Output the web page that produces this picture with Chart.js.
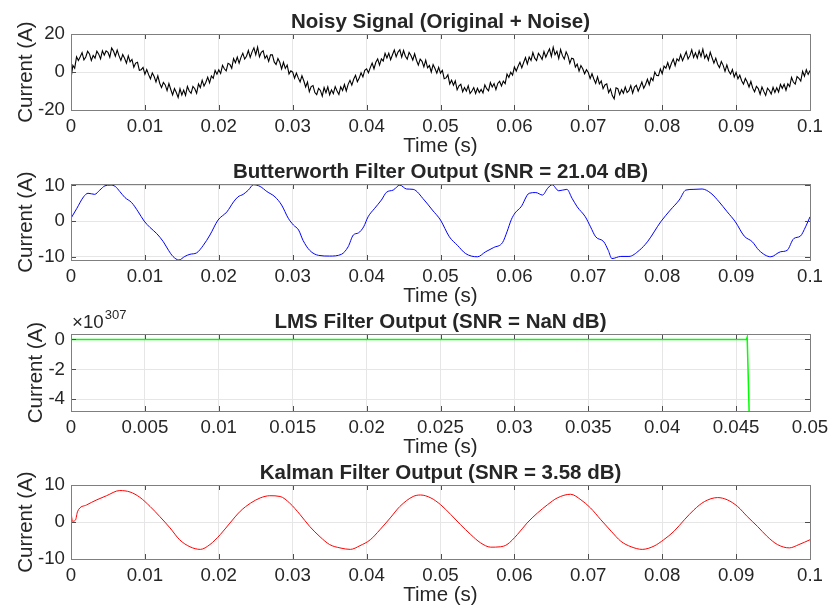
<!DOCTYPE html>
<html>
<head>
<meta charset="utf-8">
<title>Filter comparison</title>
<script src="https://cdn.jsdelivr.net/npm/chart.js@4.4.1/dist/chart.umd.min.js"></script>
<style>
  html, body { margin: 0; padding: 0; background: #fff; }
  #wrap { position: relative; width: 828px; height: 611px; overflow: hidden; }
  #wrap canvas { position: absolute; left: 0; top: 0; }
</style>
</head>
<body>
<div id="wrap">
  <canvas id="noisyChart" width="828" height="611"></canvas>
  <canvas id="butterChart" width="828" height="611"></canvas>
  <canvas id="lmsChart" width="828" height="611"></canvas>
  <canvas id="kalmanChart" width="828" height="611"></canvas>
</div>
<script>
// ---- data ----

// noisy signal, sampled every 0.25 ms from 0 to 0.1 s
const NOISY_DT = 0.00025;
const noisyCurrent = [
  -3.5, 3.5, 2.0, 8.0, 6.0, 8.0, 10.2, 6.4, 7.9, 10.9, 9.5, 6.1, 8.7, 7.3, 11.0, 9.4, 6.9, 11.2, 8.9, 11.1,
  10.4, 7.8, 12.6, 11.0, 8.3, 11.5, 8.5, 6.1, 9.2, 7.2, 4.6, 8.5, 5.4, 6.6, 2.5, 4.7, 5.1, 0.9, 1.2, 2.4,
  -1.2, 1.3, -1.4, -3.6, -0.5, -2.4, -5.2, -2.0, -5.9, -8.2, -5.5, -6.8, -9.8, -6.1, -9.2, -12.1, -8.7, -10.8, -13.4, -8.8,
  -12.1, -9.5, -12.3, -7.6, -10.0, -11.2, -7.6, -8.8, -11.2, -6.3, -8.2, -4.3, -7.4, -5.4, -2.7, -5.7, -2.1, -3.3, 0.8, -1.2,
  1.1, -0.8, 3.5, 1.7, 0.6, 4.6, 4.0, 2.0, 7.1, 4.9, 7.8, 4.6, 7.7, 9.9, 6.8, 8.3, 11.3, 7.7, 10.6, 12.7,
  9.1, 13.1, 8.0, 10.4, 11.2, 7.2, 8.7, 5.6, 9.0, 9.0, 5.3, 3.9, 7.1, 5.1, 1.6, 5.1, 1.9, 3.7, -1.0, 0.6,
  -0.1, -3.3, -0.6, -3.1, -5.2, -2.0, -4.6, -7.9, -5.3, -10.4, -7.7, -7.1, -10.8, -11.9, -8.6, -9.7, -12.7, -8.2, -10.9, -7.8,
  -12.0, -9.4, -11.4, -7.7, -10.0, -11.8, -7.8, -9.7, -6.6, -10.0, -6.5, -4.4, -6.9, -3.8, -1.7, -5.1, -3.2, -0.4, -2.6, 0.9,
  1.7, -0.4, 2.3, 4.7, 1.7, 5.1, 6.9, 3.6, 6.9, 5.8, 9.8, 7.4, 9.9, 6.5, 9.1, 11.6, 8.0, 10.5, 11.7, 7.8,
  11.3, 8.3, 6.8, 10.3, 8.7, 6.3, 9.6, 6.2, 3.6, 6.8, 5.6, 2.7, 6.2, 2.2, 3.4, 0.0, 3.9, 1.8, -0.6, 2.5,
  -0.6, 0.9, -3.5, -3.1, -1.5, -6.3, -4.3, -7.0, -4.7, -9.4, -7.3, -6.5, -10.4, -8.2, -10.1, -7.2, -11.3, -10.0, -8.2, -11.3,
  -8.6, -10.8, -9.2, -11.0, -6.8, -8.8, -9.9, -5.6, -7.9, -6.1, -9.3, -6.0, -4.9, -7.4, -4.8, -6.1, -1.1, -2.8, -0.1, -1.6,
  2.6, 0.5, 3.0, 5.1, 2.2, 5.0, 7.6, 4.2, 7.9, 6.1, 10.2, 7.3, 6.0, 9.8, 8.4, 6.6, 10.8, 7.8, 10.1, 12.2,
  8.2, 13.0, 9.1, 10.9, 7.1, 11.8, 8.6, 6.8, 10.6, 8.5, 4.6, 7.3, 6.9, 2.6, 4.2, 0.5, 3.4, 1.7, -0.9, 1.2,
  -0.3, -3.5, -0.9, -3.7, -6.0, -2.6, -6.3, -4.7, -8.8, -6.8, -6.2, -10.8, -8.9, -12.4, -14.1, -8.3, -8.8, -11.9, -9.3, -11.2,
  -7.9, -10.8, -9.8, -7.2, -11.1, -7.9, -7.0, -10.1, -7.8, -5.3, -8.6, -6.6, -3.8, -6.7, -3.1, -4.5, 0.0, -1.8, -1.9, 1.6,
  -0.9, 3.1, 2.0, 5.0, 1.7, 4.6, 6.8, 3.3, 6.9, 5.8, 9.1, 6.0, 8.3, 10.7, 6.8, 8.6, 11.7, 7.7, 10.1, 7.3,
  11.2, 8.2, 12.0, 7.3, 9.1, 6.2, 10.4, 7.5, 4.7, 7.3, 4.1, 2.3, 5.5, 3.5, 0.3, 3.7, 0.5, -1.1, 1.3, -2.6,
  -0.2, -3.6, -1.7, -4.6, -6.4, -3.4, -5.3, -7.9, -5.0, -8.5, -10.4, -7.5, -8.7, -11.7, -7.9, -10.2, -12.3, -8.5, -9.7, -11.6,
  -8.1, -10.8, -8.3, -10.5, -6.5, -8.6, -6.5, -9.6, -6.2, -7.7, -2.9, -5.3, -6.4, -2.4, -3.3, -4.8, 0.4, -2.2, 1.2, -1.3,
  0.8
];

// Butterworth output
const bwTime = [
  0, 0.0008, 0.0017, 0.0023, 0.0032, 0.0039, 0.0046, 0.0053, 0.006, 0.0066, 0.0073, 0.0082, 0.0091, 0.0099,
  0.0107, 0.0116, 0.0125, 0.0132, 0.0138, 0.0146, 0.0154, 0.0161, 0.017, 0.0179, 0.0188, 0.0199,
  0.0211, 0.022, 0.0226, 0.0233, 0.024, 0.0247, 0.0256, 0.0265, 0.0276, 0.0285, 0.0294,
  0.0301, 0.0308, 0.0314, 0.0323, 0.0335, 0.035, 0.0366, 0.0375, 0.0382, 0.0389, 0.0396,
  0.0402, 0.0411, 0.042, 0.0427, 0.0436, 0.0445, 0.0454, 0.0463, 0.0478, 0.0489, 0.05,
  0.0512, 0.0523, 0.0534, 0.055, 0.0561, 0.0572, 0.0584, 0.059, 0.0596, 0.0601, 0.0609,
  0.062, 0.0629, 0.0638, 0.0645, 0.0651, 0.066, 0.0671, 0.0678, 0.0685, 0.0696,
  0.0703, 0.071, 0.0721, 0.0727, 0.0732, 0.0744, 0.0755, 0.0769, 0.078, 0.0798,
  0.0811, 0.0823, 0.0832, 0.0843, 0.0854, 0.0866, 0.0877, 0.0888, 0.0899,
  0.0911, 0.0922, 0.0931, 0.0947, 0.096, 0.0969, 0.0978, 0.0987, 0.0994, 0.1
];
const bwCurrent = [
  0.8, 3.6, 6.8, 7.8, 7.5, 8.7, 9.9, 10.1, 9.7, 8.3, 6.6, 5.2, 2.6, 0,
  -1.8, -3.5, -5.8, -8.2, -9.9, -10.9, -9.9, -9.3, -8.9, -6.8, -3.9, 0.3,
  2.6, 5.4, 6.8, 7.5, 8.7, 10.2, 9.7, 8.3, 6.8, 4.5, 0.8,
  -1.1, -2.5, -5.4, -8.2, -9.6, -9.8, -9.3, -7.2, -3.9, -3.3, -1.6,
  1.2, 3.6, 5.9, 8.1, 8.7, 10.1, 9.0, 8.9, 5.9, 3.1, 0.3,
  -4.4, -6.8, -9.1, -10.0, -8.6, -7.4, -6.0, -3.0, 0.5, 2.3, 4.0,
  7.8, 8.0, 7.3, 9.2, 10.2, 8.5, 8.9, 6.4, 4.0, 1.2,
  -1.6, -4.4, -5.8, -8.2, -10.5, -9.9, -9.9, -8.2, -5.8, -0.2,
  3.1, 5.9, 8.7, 8.9, 9.0, 7.8, 5.4, 2.6, -0.2,
  -4.2, -5.8, -8.2, -10.0, -8.6, -8.2, -4.9, -4.2, -1.6, 1.2
];

// LMS output, in units of 1e307 (diverges just after 0.0457 s)
const lmsTime = [0, 0.0457, 0.04575, 0.0459];
const lmsCurrent = [0, 0, 0.15, -5.5];

// Kalman output
const kalmanTime = [
  0, 0.0002, 0.0006, 0.0009, 0.0021, 0.0035, 0.0048, 0.0066, 0.008, 0.0093,
  0.0107, 0.012, 0.0134, 0.0147, 0.0161, 0.0175, 0.0188, 0.0202, 0.0215, 0.0229,
  0.0243, 0.0256, 0.0269, 0.0283, 0.0296, 0.031, 0.0323, 0.0337, 0.035, 0.0364,
  0.0378, 0.0391, 0.0405, 0.0418, 0.0432, 0.0445, 0.0463, 0.0473, 0.0487, 0.05,
  0.0514, 0.0527, 0.0541, 0.0554, 0.0568, 0.0581, 0.059, 0.0604, 0.0617, 0.0631,
  0.0645, 0.0658, 0.0676, 0.069, 0.0703, 0.0717, 0.0731, 0.0744, 0.0758, 0.0773,
  0.0789, 0.0802, 0.0816, 0.083, 0.0843, 0.0857, 0.0875, 0.0888, 0.0902, 0.0915,
  0.0929, 0.0942, 0.0956, 0.0972, 0.0985, 0.1
];
const kalmanCurrent = [
  2.8, 0.2, 0.5, 2.9, 4.6, 6.0, 7.1, 8.5, 8.1, 6.7,
  4.2, 1.5, -1.6, -4.8, -6.7, -7.4, -6.1, -3.4, -0.3, 2.9,
  5.1, 6.5, 7.1, 6.9, 5.1, 2.0, -1.2, -4.0, -6.1, -7.0,
  -7.4, -6.4, -4.8, -2.1, 1.1, 4.2, 6.9, 7.3, 6.5, 4.7,
  2.0, -0.7, -3.4, -5.6, -6.8, -6.7, -6.1, -3.4, -0.3, 2.4,
  4.7, 6.5, 7.5, 6.0, 3.8, 0.6, -2.5, -5.2, -6.7, -7.4,
  -6.5, -4.8, -2.5, 0.6, 3.3, 5.5, 6.6, 6.0, 4.2, 1.5,
  -1.2, -3.9, -6.1, -7.0, -6.1, -4.8
];

// tick values and labels
const xTicksLong = [0, 0.01, 0.02, 0.03, 0.04, 0.05, 0.06, 0.07, 0.08, 0.09, 0.1];
const xLabelsLong = ["0", "0.01", "0.02", "0.03", "0.04", "0.05", "0.06", "0.07", "0.08", "0.09", "0.1"];
const xTicksShort = [0, 0.005, 0.01, 0.015, 0.02, 0.025, 0.03, 0.035, 0.04, 0.045, 0.05];
const xLabelsShort = ["0", "0.005", "0.01", "0.015", "0.02", "0.025", "0.03", "0.035", "0.04", "0.045", "0.05"];
const yTicksNoisy = [-20, 0, 20];
const yTicksTen = [-10, 0, 10];
const yTicksLms = [-4, -2, 0];

// ---- layout / style ----
const PAGE_W = 828;
const PAGE_H = 611;
const BOX_LEFT = 71;
const BOX_RIGHT = 810;
const X_AXIS_H = 49;
const TICK_LEN = 5;
const FONT = '"Liberation Sans", Arial, Helvetica, sans-serif';
const TEXT_COLOR = "#262626";

// MATLAB-like box: border all round, inward tick marks, bold title above
const matlabAxes = {
  id: "matlabAxes",
  afterDraw(chart, args, opts) {
    const { ctx, chartArea: a, scales } = chart;
    ctx.save();
    ctx.strokeStyle = "#4d4d4d";
    ctx.lineWidth = 1;
    ctx.beginPath();
    scales.x.ticks.forEach((t) => {
      const px = Math.round(scales.x.getPixelForValue(t.value)) + 0.5;
      ctx.moveTo(px, a.bottom);
      ctx.lineTo(px, a.bottom - TICK_LEN);
      ctx.moveTo(px, a.top);
      ctx.lineTo(px, a.top + TICK_LEN);
    });
    scales.y.ticks.forEach((t) => {
      const py = Math.round(scales.y.getPixelForValue(t.value)) + 0.5;
      ctx.moveTo(a.left, py);
      ctx.lineTo(a.left + TICK_LEN, py);
      ctx.moveTo(a.right, py);
      ctx.lineTo(a.right - TICK_LEN, py);
    });
    ctx.stroke();

    ctx.strokeStyle = "#7f7f7f";
    ctx.strokeRect(Math.round(a.left) + 0.5, Math.round(a.top) + 0.5,
      Math.round(a.right - a.left), Math.round(a.bottom - a.top));

    ctx.fillStyle = TEXT_COLOR;
    ctx.textBaseline = "alphabetic";
    ctx.textAlign = "center";
    ctx.font = "bold 20.5px " + FONT;
    ctx.fillText(opts.title, (a.left + a.right) / 2, a.top - 6);

    if (opts.exponent) {
      ctx.textAlign = "left";
      ctx.font = "18.7px " + FONT;
      const base = "\u00d710";
      ctx.fillText(base, a.left + 1, a.top - 6);
      const w = ctx.measureText(base).width;
      ctx.font = "13px " + FONT;
      ctx.fillText(opts.exponent, a.left + 2 + w, a.top - 15);
    }
    ctx.restore();
  },
};

function makeChart(id, cfg) {
  return new Chart(document.getElementById(id), {
    type: "line",
    data: {
      datasets: [
        {
          data: cfg.x.map((t, i) => ({ x: t, y: cfg.y[i] })),
          borderColor: cfg.color,
          borderWidth: cfg.lineWidth || 1,
          pointRadius: 0,
          fill: false,
          cubicInterpolationMode: cfg.smooth ? "monotone" : "default",
        },
      ],
    },
    plugins: [matlabAxes],
    options: {
      responsive: false,
      animation: false,
      events: [],
      layout: {
        padding: {
          left: 0,
          right: PAGE_W - BOX_RIGHT,
          top: cfg.top,
          bottom: PAGE_H - cfg.bottom - X_AXIS_H,
        },
      },
      plugins: {
        legend: { display: false },
        tooltip: { enabled: false },
        matlabAxes: { title: cfg.title, exponent: cfg.exponent },
      },
      scales: {
        x: {
          type: "linear",
          min: cfg.xTicks[0],
          max: cfg.xTicks[cfg.xTicks.length - 1],
          afterBuildTicks: (s) => { s.ticks = cfg.xTicks.map((v) => ({ value: v })); },
          afterFit: (s) => {
            s.height = X_AXIS_H;
            // let the end labels overhang the box like MATLAB does
            s.paddingLeft = 0;
            s.paddingRight = 0;
          },
          ticks: {
            autoSkip: false,
            maxRotation: 0,
            padding: 6,
            color: TEXT_COLOR,
            font: { family: FONT, size: 18.7, lineHeight: 1.2 },
            callback: (v, i) => cfg.xLabels[i],
          },
          grid: { color: "#e6e6e6", drawTicks: false },
          border: { display: false },
          title: {
            display: true,
            text: "Time (s)",
            color: TEXT_COLOR,
            padding: 0,
            font: { family: FONT, size: 20.5, lineHeight: 1.2 },
          },
        },
        y: {
          min: cfg.yMin,
          max: cfg.yMax,
          afterBuildTicks: (s) => { s.ticks = cfg.yTicks.map((v) => ({ value: v })); },
          afterFit: (s) => {
            s.width = BOX_LEFT;
            s.paddingTop = 0;
            s.paddingBottom = 0;
          },
          ticks: {
            padding: 6,
            color: TEXT_COLOR,
            font: { family: FONT, size: 18.7 },
            callback: (v) => String(v),
          },
          grid: { color: "#e6e6e6", drawTicks: false },
          border: { display: false },
          title: {
            display: true,
            text: "Current (A)",
            color: TEXT_COLOR,
            padding: { top: cfg.yTitlePad, bottom: 0 },
            font: { family: FONT, size: 20.5, lineHeight: 1.2 },
          },
        },
      },
    },
  });
}

makeChart("noisyChart", {
  title: "Noisy Signal (Original + Noise)",
  x: noisyCurrent.map((v, i) => i * NOISY_DT),
  y: noisyCurrent,
  color: "#000000",
  lineWidth: 1.1,
  top: 34, bottom: 110,
  yMin: -20, yMax: 20, yTicks: yTicksNoisy, yTitlePad: 14,
  xTicks: xTicksLong, xLabels: xLabelsLong,
});

makeChart("butterChart", {
  title: "Butterworth Filter Output (SNR = 21.04 dB)",
  x: bwTime,
  y: bwCurrent,
  color: "#0000ff",
  smooth: true,
  top: 184, bottom: 260,
  yMin: -10.9, yMax: 10.4, yTicks: yTicksTen, yTitlePad: 14,
  xTicks: xTicksLong, xLabels: xLabelsLong,
});

makeChart("lmsChart", {
  title: "LMS Filter Output (SNR = NaN dB)",
  exponent: "307",
  x: lmsTime,
  y: lmsCurrent,
  color: "#00ff00",
  lineWidth: 1.5,
  top: 334, bottom: 411,
  yMin: -4.78, yMax: 0.36, yTicks: yTicksLms, yTitlePad: 24,
  xTicks: xTicksShort, xLabels: xLabelsShort,
});

makeChart("kalmanChart", {
  title: "Kalman Filter Output (SNR = 3.58 dB)",
  x: kalmanTime,
  y: kalmanCurrent,
  color: "#ff0000",
  smooth: true,
  top: 485, bottom: 559,
  yMin: -10, yMax: 10, yTicks: yTicksTen, yTitlePad: 14,
  xTicks: xTicksLong, xLabels: xLabelsLong,
});
</script>
</body>
</html>
